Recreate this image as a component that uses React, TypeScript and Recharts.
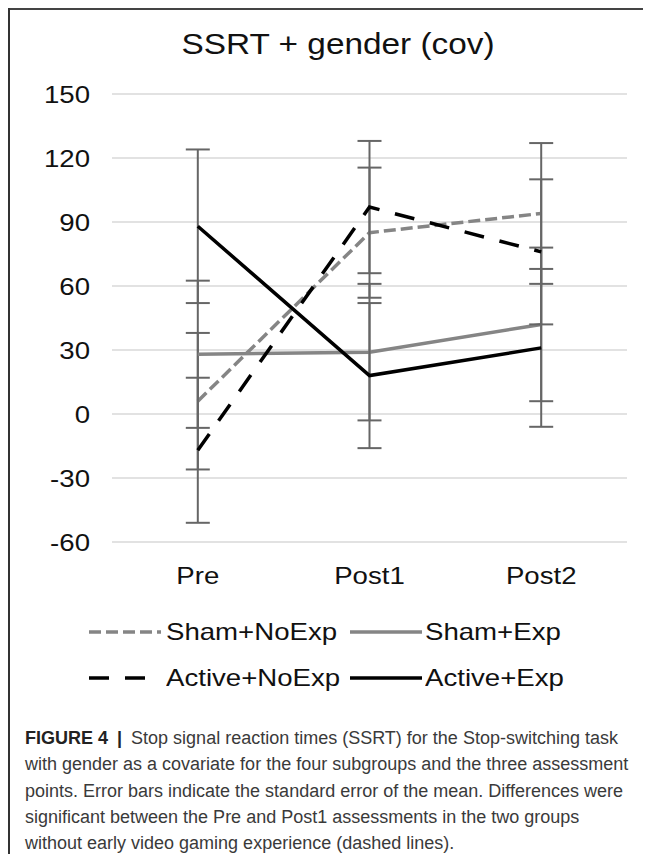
import React from 'react';
import { LineChart, Line, XAxis, YAxis, CartesianGrid, ErrorBar } from 'recharts';

// values
const categories = ['Pre', 'Post1', 'Post2'];
const shamNoExp = [6, 85, 94];
const shamNoExpErr = [32, 30.5, 33];
const shamExp = [28, 29, 42];
const shamExpErr = [34.5, 32, 36];
const activeNoExp = [-17, 97, 76];
const activeNoExpErr = [34, 31, 34];
const activeExp = [88, 18, 31];
const activeExpErr = [36, 34, 37];
const yTicks = [-60, -30, 0, 30, 60, 90, 120, 150];

const seriesNames = ['Sham+NoExp', 'Sham+Exp', 'Active+NoExp', 'Active+Exp'];

const chartData = categories.map((name, i) => ({
    name,
    shamNoExp: shamNoExp[i],
    shamNoExpErr: shamNoExpErr[i],
    shamExp: shamExp[i],
    shamExpErr: shamExpErr[i],
    activeNoExp: activeNoExp[i],
    activeNoExpErr: activeNoExpErr[i],
    activeExp: activeExp[i],
    activeExpErr: activeExpErr[i],
}));

const FONT = '"Liberation Sans", Arial, sans-serif';
const SX = 1.15; // the figure text is a little stretched sideways
const GREY = '#858585';
const ERR = '#666666';

const YTick = (props: any) => {
    const { x, y, payload } = props;
    return (
        <text
            transform={`translate(${x},${y}) scale(${SX},1)`}
            textAnchor="end"
            dy="0.36em"
            fontSize={24}
            fontFamily={FONT}
            fill="#111"
        >
            {payload.value}
        </text>
    );
};

const XTick = (props: any) => {
    const { x, y, payload } = props;
    return (
        <text
            transform={`translate(${x},${y}) scale(${SX},1)`}
            textAnchor="middle"
            dy={28}
            fontSize={24}
            fontFamily={FONT}
            fill="#111"
        >
            {payload.value}
        </text>
    );
};

const legendItems = [
    { name: seriesNames[0], color: GREY, dash: '12 5', col: 0, row: 0 },
    { name: seriesNames[1], color: GREY, dash: undefined, col: 1, row: 0 },
    { name: seriesNames[2], color: '#000', dash: '20 16', col: 0, row: 1 },
    { name: seriesNames[3], color: '#000', dash: undefined, col: 1, row: 1 },
];

const captionLines = [
    'Stop signal reaction times (SSRT) for the Stop-switching task',
    'with gender as a covariate for the four subgroups and the three assessment',
    'points. Error bars indicate the standard error of the mean. Differences were',
    'significant between the Pre and Post1 assessments in the two groups',
    'without early video gaming experience (dashed lines).',
];

export default function App() {
    const colMarkerX = [81, 342];
    const colTextX = [158, 417];
    const rowY = [624, 670];

    return (
        <div style={{ position: 'relative', width: 643, height: 846, overflow: 'hidden', background: '#fff', fontFamily: FONT }}>
            <div style={{ position: 'absolute', left: 0, top: 0, width: '100%', height: 2, background: '#444' }} />
            <div style={{ position: 'absolute', left: 0, top: 0, width: 2, height: '100%', background: '#333' }} />

            <div style={{ position: 'absolute', left: 80, top: 18, width: 500, textAlign: 'center', fontSize: 29, lineHeight: '36px', color: '#111' }}>
                <span style={{ display: 'inline-block', transform: `scaleX(${SX})` }}>SSRT + gender (cov)</span>
            </div>

            <div style={{ position: 'absolute', left: 0, top: 0 }}>
                <LineChart width={643} height={600} data={chartData} margin={{ top: 86, right: 24, left: 44, bottom: 26 }}>
                    <CartesianGrid vertical={false} stroke="#d9d9d9" strokeWidth={1.6} />
                    <XAxis
                        dataKey="name"
                        axisLine={false}
                        tickLine={false}
                        height={40}
                        padding={{ left: 85.8, right: 85.8 }}
                        tick={<XTick />}
                        tickMargin={8}
                        interval={0}
                    />
                    <YAxis
                        width={60}
                        domain={[-60, 150]}
                        ticks={yTicks}
                        axisLine={false}
                        tickLine={false}
                        tickMargin={16}
                        tick={<YTick />}
                        interval={0}
                    />
                    <Line type="linear" dataKey="shamNoExp" name={seriesNames[0]} stroke={GREY} strokeWidth={3.5} strokeDasharray="12 5" dot={false} isAnimationActive={false}>
                        <ErrorBar dataKey="shamNoExpErr" width={12} stroke={ERR} strokeWidth={2} direction="y" isAnimationActive={false} />
                    </Line>
                    <Line type="linear" dataKey="shamExp" name={seriesNames[1]} stroke={GREY} strokeWidth={3.5} dot={false} isAnimationActive={false}>
                        <ErrorBar dataKey="shamExpErr" width={12} stroke={ERR} strokeWidth={2} direction="y" isAnimationActive={false} />
                    </Line>
                    <Line type="linear" dataKey="activeNoExp" name={seriesNames[2]} stroke="#000" strokeWidth={3.5} strokeDasharray="20 16" dot={false} isAnimationActive={false}>
                        <ErrorBar dataKey="activeNoExpErr" width={12} stroke={ERR} strokeWidth={2} direction="y" isAnimationActive={false} />
                    </Line>
                    <Line type="linear" dataKey="activeExp" name={seriesNames[3]} stroke="#000" strokeWidth={3.5} dot={false} isAnimationActive={false}>
                        <ErrorBar dataKey="activeExpErr" width={12} stroke={ERR} strokeWidth={2} direction="y" isAnimationActive={false} />
                    </Line>
                </LineChart>
            </div>

            {legendItems.map((it) => (
                <React.Fragment key={it.name}>
                    <svg style={{ position: 'absolute', left: colMarkerX[it.col], top: rowY[it.row] - 4 }} width={72} height={8}>
                        <line x1={0} y1={4} x2={72} y2={4} stroke={it.color} strokeWidth={3.5} strokeDasharray={it.dash} />
                    </svg>
                    <div style={{ position: 'absolute', left: colTextX[it.col], top: rowY[it.row] - 15, fontSize: 24, lineHeight: '30px', color: '#111', whiteSpace: 'nowrap' }}>
                        <span style={{ display: 'inline-block', transform: `scaleX(${SX})`, transformOrigin: 'left center' }}>{it.name}</span>
                    </div>
                </React.Fragment>
            ))}

            <div style={{ position: 'absolute', left: 17, top: 717, fontSize: 18, lineHeight: '26.3px', color: '#3a3a3a', whiteSpace: 'nowrap' }}>
                {captionLines.map((line, i) => (
                    <div key={i}>
                        {i === 0 && (
                            <span style={{ fontWeight: 'bold', color: '#222' }}>FIGURE 4 <span style={{ margin: '0 4px' }}>|</span> </span>
                        )}
                        {line}
                    </div>
                ))}
            </div>
        </div>
    );
}
